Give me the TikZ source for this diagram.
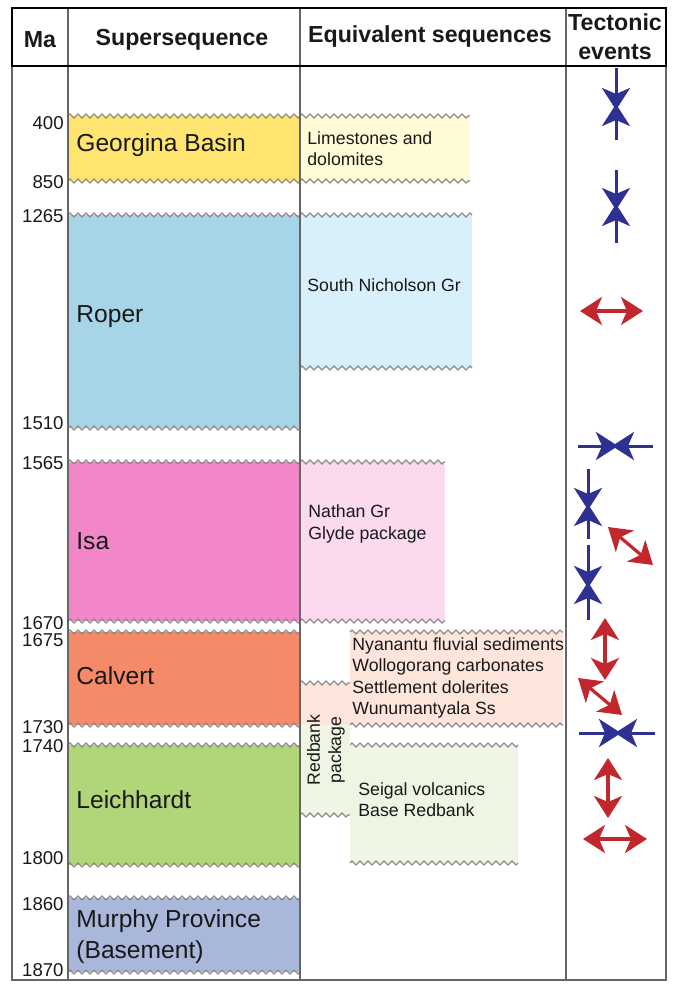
\documentclass[tikz,border=0pt]{standalone}
\usepackage{fontspec}
\setmainfont{Liberation Sans}
\usetikzlibrary{arrows.meta, positioning, decorations.pathmorphing}
\definecolor{georgina}{HTML}{FFE46F}
\definecolor{roper}{HTML}{A6D5E7}
\definecolor{isa}{HTML}{F386C8}
\definecolor{calvert}{HTML}{F48A68}
\definecolor{leich}{HTML}{B1D67A}
\definecolor{murphy}{HTML}{A9B7DB}
\definecolor{limeq}{HTML}{FFFBD6}
\definecolor{nicheq}{HTML}{D8F0FA}
\definecolor{natheq}{HTML}{FBD9EE}
\definecolor{nyaneq}{HTML}{FDE5DC}
\definecolor{seigeq}{HTML}{EEF5E2}
\definecolor{compblue}{HTML}{2E3192}
\definecolor{extred}{HTML}{C1272D}

\begin{document}
\begin{tikzpicture}[x=0.5pt, y=-0.5pt, >=Stealth, text=black!90,
    unconf/.style={draw=black!45, line width=0.6pt, decorate,
      decoration={zigzag, segment length=4pt, amplitude=1pt}},
    grid/.style={draw=black!60, line width=0.8pt},
    comp/.style={draw=compblue, line width=1.5pt, shorten >=-1.5pt,
      -{Stealth[length=11pt, width=14pt, inset=3pt]}},
    ext/.style={draw=extred, line width=1.6pt,
      {Stealth[length=11pt, width=14pt, inset=3pt]}-{Stealth[length=11pt, width=14pt, inset=3pt]}},
    ma/.style={anchor=east, inner sep=0pt, font=\fontsize{9.3}{11}\selectfont},
    super/.style={anchor=west, inner sep=0pt, align=left,
      font=\fontsize{12.3}{15.5}\selectfont},
    equiv/.style={anchor=west, inner sep=0pt, align=left,
      font=\fontsize{8.85}{10.6}\selectfont},
    head/.style={align=center, inner sep=0pt,
      font=\bfseries\fontsize{11.6}{14.5}\selectfont}]
  \useasboundingbox (0,0) rectangle (673,984);
  \foreach \c/\xl/\xr/\t/\b in {georgina/68/300/116/181, roper/68/300/215/428,
      isa/68/300/462/621, calvert/68/300/632/725, leich/68/300/745/865,
      murphy/68/300/898/972, limeq/300/470/116/181, nicheq/300/472/215/368,
      natheq/300/445/462/621, nyaneq/350/563/632/725, seigeq/350/518/745/863}{
    \fill[\c] (\xl,\t) rectangle (\xr,\b);
    \draw[unconf] (\xl,\t) -- (\xr,\t);
    \draw[unconf] (\xl,\b) -- (\xr,\b);
  }
  \fill[nyaneq] (300,683) rectangle (350,725);
  \fill[seigeq] (300,725) rectangle (350,815);
  \draw[unconf] (300,683) -- (350,683);
  \draw[unconf] (300,815) -- (350,815);

  \draw[grid] (12,66) -- (12,980) -- (666,980) -- (666,66);
  \foreach \x in {68,300,566}
    \draw[grid] (\x,8) -- (\x,980);
  \draw[line width=1.1pt] (12,8) rectangle (666,66);
  \node[head] (hma) at (40,40) {Ma};
  \node[head] (hsup) at (182,40) {Supersequence};
  \node[head] (heq) at (430,37) {Equivalent sequences};
  \node[head] (htec) at (615,37) {Tectonic\\events};

  \foreach \v/\y in {400/123, 850/182, 1265/216, 1510/423, 1565/463,
      1670/623, 1675/640, 1730/727, 1740/746, 1800/858, 1860/904, 1870/970}
    \node[ma] (ma\v) at (64,\y) {\v};

  \node[super] (geor) at (76,145) {Georgina Basin};
  \node[super] (rop) at (76,317) {Roper};
  \node[super] (isa) at (76,541) {Isa};
  \node[super] (calv) at (76,676) {Calvert};
  \node[super] (leich) at (76,800) {Leichhardt};
  \node[super] (murph) at (76,937) {Murphy Province\\(Basement)};

  \node[equiv] (lime) at (307,149) {Limestones and\\dolomites};
  \node[equiv] (nich) at (307,285) {South Nicholson Gr};
  \node[equiv] (nath) at (308,524) {Nathan Gr\\Glyde package};
  \node[equiv] (nyan) at (352,678) {Nyanantu fluvial sediments\\Wollogorang carbonates\\
    Settlement dolerites\\Wunumantyala Ss};
  \node[equiv] (seig) at (358,800) {Seigal volcanics\\Base Redbank};
  \node[equiv, anchor=center, align=center, rotate=90] (red) at (326,750)
    {Redbank\\package};

  \foreach \i/\a/\m/\b in {1/{616,68}/{616,107}/{616,140},
      2/{616,170}/{616,207}/{616,243}, 3/{578,446}/{615,446}/{653,446},
      4/{588,469}/{588,507}/{588,539}, 5/{588,545}/{588,585}/{588,620},
      6/{579,733}/{618,733}/{655,733}}{
    \coordinate (c\i a) at (\a);
    \coordinate (c\i m) at (\m);
    \coordinate (c\i b) at (\b);
    \draw[comp] (c\i a) -- (c\i m);
    \draw[comp] (c\i b) -- (c\i m);
  }
  \foreach \i/\a/\b in {1/{580,311}/{643,311}, 2/{608,527}/{653,565},
      3/{605,618}/{605,680}, 4/{578,678}/{622,715}, 5/{608,758}/{608,818},
      6/{583,839}/{647,839}}{
    \coordinate (e\i a) at (\a);
    \coordinate (e\i b) at (\b);
    \draw[ext] (e\i a) -- (e\i b);
  }
\end{tikzpicture}
\end{document}
